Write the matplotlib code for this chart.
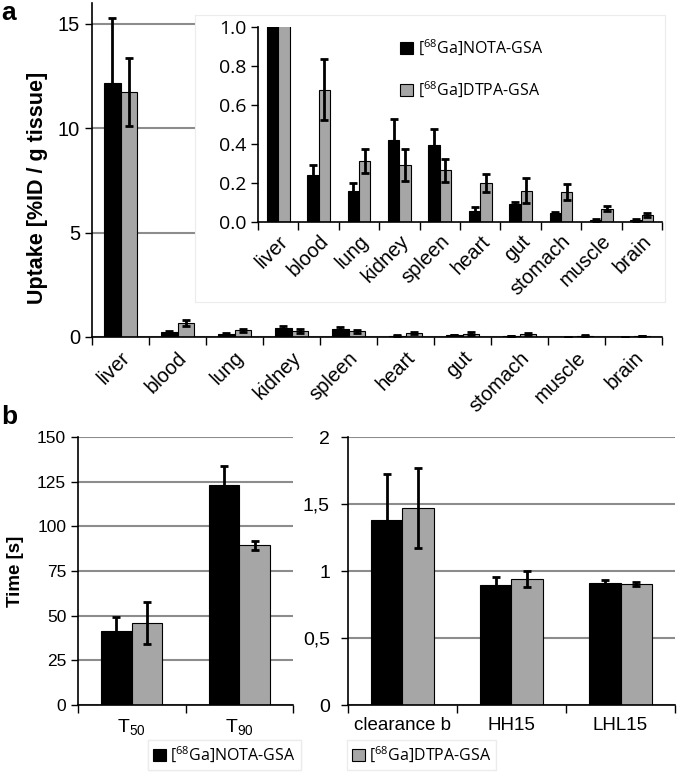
import numpy as np
import matplotlib.pyplot as plt
from matplotlib.ticker import FixedLocator, FormatStrFormatter, FixedFormatter

plt.rcParams['font.family'] = ['Liberation Sans', 'DejaVu Sans']

# Organ biodistribution (panel a)
organs = ['liver', 'blood', 'lung', 'kidney', 'spleen', 'heart', 'gut', 'stomach', 'muscle', 'brain']
nota = [12.19, 0.243, 0.159, 0.419, 0.397, 0.058, 0.094, 0.044, 0.010, 0.010]
nota_err = [3.08, 0.05, 0.04, 0.11, 0.08, 0.017, 0.008, 0.009, 0.003, 0.004]
dtpa = [11.74, 0.679, 0.313, 0.292, 0.265, 0.198, 0.161, 0.154, 0.068, 0.038]
dtpa_err = [1.64, 0.157, 0.06, 0.08, 0.06, 0.046, 0.065, 0.043, 0.012, 0.010]

# Kinetics (panel b, left)
t_labels = [r'T$_{\mathregular{50}}$', r'T$_{\mathregular{90}}$']
t_nota = [41.5, 123.1]
t_nota_err = [7.6, 10.5]
t_dtpa = [46.1, 89.3]
t_dtpa_err = [11.8, 2.7]

# Clearance indices (panel b, right)
c_labels = ['clearance b', 'HH15', 'LHL15']
c_nota = [1.384, 0.897, 0.914]
c_nota_err = [0.34, 0.06, 0.018]
c_dtpa = [1.471, 0.942, 0.904]
c_dtpa_err = [0.30, 0.06, 0.017]

lab_nota = r'[$^{\mathregular{68}}$Ga]NOTA-GSA'
lab_dtpa = r'[$^{\mathregular{68}}$Ga]DTPA-GSA'

W, H = 679, 773
GREY = '#a6a6a6'
GRID = '#8c8c8c'

def fr(x0, y0, x1, y1):
    return [x0 / W, 1 - y1 / H, (x1 - x0) / W, (y1 - y0) / H]

def bars(ax, a, a_err, b, b_err, width):
    x = np.arange(len(a))
    bn = ax.bar(x - width / 2, a, width, color='black', edgecolor='black', lw=0.8, zorder=2)
    bd = ax.bar(x + width / 2, b, width, color=GREY, edgecolor='black', lw=0.8, zorder=2)
    ax.errorbar(x - width / 2, a, yerr=a_err, fmt='none', ecolor='black',
                elinewidth=2, capsize=3, capthick=2, zorder=3)
    ax.errorbar(x + width / 2, b, yerr=b_err, fmt='none', ecolor='black',
                elinewidth=2, capsize=3, capthick=2, zorder=3)
    ax.set_xlim(-0.5, len(a) - 0.5)
    ax.set_xticks(x)
    ax.xaxis.set_minor_locator(FixedLocator(np.arange(len(a) + 1) - 0.5))
    ax.tick_params(axis='x', which='major', length=0)
    ax.tick_params(axis='x', which='minor', length=6, width=1, direction='out')
    ax.tick_params(axis='y', length=5, width=1, direction='out')
    for s in ['top', 'right']:
        ax.spines[s].set_visible(False)
    for s in ['left', 'bottom']:
        ax.spines[s].set_linewidth(1.2)
    return bn, bd

fig = plt.figure(figsize=(W / 100, H / 100), dpi=100)

# ---- panel a, main axes
ax = fig.add_axes(fr(92, 3, 662, 337))
bars(ax, nota, nota_err, dtpa, dtpa_err, 0.285)
ax.set_ylim(0, 16)
ax.set_yticks([0, 5, 10, 15])
ax.yaxis.grid(True, color=GRID, lw=1.5)
ax.set_axisbelow(True)
ax.set_xticklabels(organs, rotation=45, ha='right', rotation_mode='anchor', fontsize=14.5)
ax.tick_params(axis='y', labelsize=14.5)
ax.tick_params(axis='x', which='major', pad=8)
fig.text(38 / W, 1 - 188 / H, 'Uptake [%ID / g tissue]', rotation=90,
         ha='center', va='center', fontsize=15.5, fontweight='bold')
fig.text(1 / W, 1 - 1 / H, 'a', ha='left', va='top', fontsize=19, fontweight='bold')

# inset background box
box = fig.add_axes(fr(195, 15, 665, 302))
box.set_xticks([])
box.set_yticks([])
for s in box.spines.values():
    s.set_color('#ececec')

# inset
ins = fig.add_axes(fr(258, 27, 662, 222))
ins.set_facecolor('none')
hn, hd = bars(ins, nota, nota_err, dtpa, dtpa_err, 0.28)
ins.set_ylim(0, 1.0)
ins.set_yticks(np.arange(0, 1.01, 0.2))
ins.yaxis.set_major_formatter(FormatStrFormatter('%.1f'))
for t in ins.get_yticklabels():
    t.set_fontfamily('Open Sans')
ins.tick_params(axis='y', labelsize=14)
ins.set_xticklabels(organs, rotation=45, ha='right', rotation_mode='anchor', fontsize=14.5)
ins.tick_params(axis='x', which='major', pad=7)
ins.legend([hn, hd], [lab_nota, lab_dtpa], loc='upper left',
           bbox_to_anchor=(392 / W, 1 - 30 / H), bbox_transform=fig.transFigure,
           frameon=False, prop={'family': 'Open Sans', 'size': 11.5},
           handlelength=0.8, handleheight=0.8, handletextpad=0.3,
           labelspacing=1.35, borderpad=0)

# ---- panel b, left
ax2 = fig.add_axes(fr(78, 437, 293, 705))
bars(ax2, t_nota, t_nota_err, t_dtpa, t_dtpa_err, 0.285)
ax2.set_ylim(0, 150)
ax2.set_yticks(np.arange(0, 151, 25))
ax2.yaxis.grid(True, color=GRID, lw=1.5)
ax2.set_axisbelow(True)
ax2.set_xticklabels(t_labels, fontsize=14)
ax2.tick_params(axis='y', labelsize=12.5)
ax2.tick_params(axis='x', which='major', pad=9)
fig.text(16 / W, 1 - 571 / H, 'Time [s]', rotation=90, ha='center', va='center',
         fontsize=13.5, fontweight='bold')
fig.text(1 / W, 1 - 405 / H, 'b', ha='left', va='top', fontsize=19, fontweight='bold')

# ---- panel b, right
ax3 = fig.add_axes(fr(348, 437, 675, 705))
bars(ax3, c_nota, c_nota_err, c_dtpa, c_dtpa_err, 0.29)
ax3.set_ylim(0, 2)
ax3.yaxis.set_major_locator(FixedLocator([0, 0.5, 1, 1.5, 2]))
ax3.yaxis.set_major_formatter(FixedFormatter(['0', '0,5', '1', '1,5', '2']))
ax3.yaxis.grid(True, color=GRID, lw=1.5)
ax3.set_axisbelow(True)
ax3.set_xticklabels(c_labels, fontsize=13.5)
ax3.tick_params(axis='y', labelsize=14, pad=8)
ax3.tick_params(axis='x', which='major', pad=9)

# bottom legends
l1 = fig.legend([hn], [lab_nota], loc='center left', bbox_to_anchor=(140 / W, 1 - 755 / H),
                prop={'family': 'Open Sans', 'size': 11.5}, handlelength=0.8, handleheight=0.8,
                handletextpad=0.3, borderpad=0.3, fancybox=False, edgecolor='#ececec',
                framealpha=1)
fig.add_artist(l1)
fig.legend([hd], [lab_dtpa], loc='center left', bbox_to_anchor=(339 / W, 1 - 755 / H),
           prop={'family': 'Open Sans', 'size': 11.5}, handlelength=0.8, handleheight=0.8,
           handletextpad=0.3, borderpad=0.3, fancybox=False, edgecolor='#ececec',
           framealpha=1)

fig.savefig('out.png', dpi=100)
